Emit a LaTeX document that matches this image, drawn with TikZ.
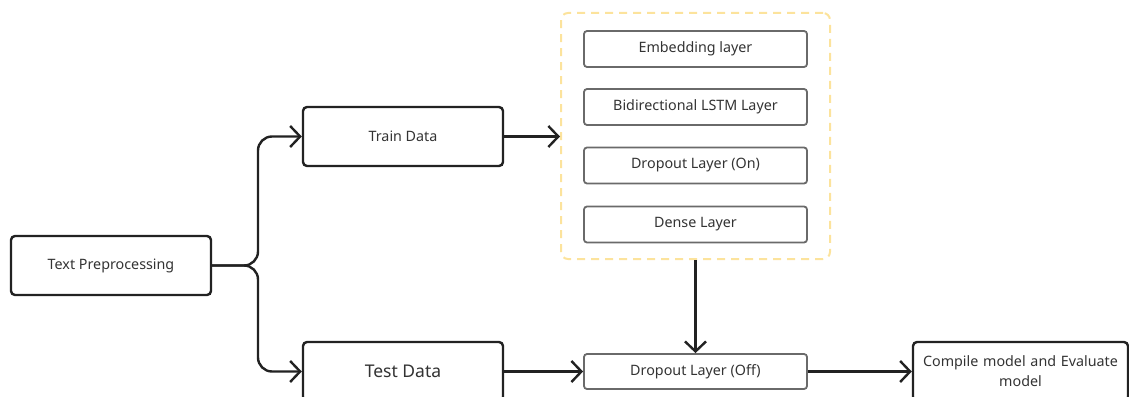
\documentclass[tikz,border=0pt]{standalone}
\usepackage{fontspec}
\setmainfont{Noto Sans}
\usetikzlibrary{arrows.meta}
\definecolor{ink}{HTML}{222222}
\definecolor{txt}{HTML}{333333}
\definecolor{layerline}{HTML}{6A6A6A}
\definecolor{groupline}{HTML}{FCE39C}
\tikzset{
  stagebox/.style={draw=ink, line width=2.4pt, rounded corners=4pt, fill=white,
    text=txt, font=\fontsize{14.3}{20}\selectfont, align=center,
    minimum width=200pt, minimum height=59pt, inner sep=0pt},
  layerbox/.style={draw=layerline, line width=1.8pt, rounded corners=3pt, fill=white,
    text=txt, font=\fontsize{14.3}{17}\selectfont,
    minimum width=223pt, minimum height=36pt, inner sep=0pt},
  groupbox/.style={draw=groupline, line width=2pt, dash pattern=on 8pt off 6pt,
    rounded corners=7pt, minimum width=269pt, minimum height=246pt, inner sep=0pt},
  flow/.style={draw=ink, line width=2.4pt,
    -{Straight Barb[length=10pt,width=21pt,line width=2.4pt]}},
}
\begin{document}
\begin{tikzpicture}[x=1pt,y=-1pt]
  \useasboundingbox (0,0) rectangle (1129,396);

  % pipeline stages
  \node[stagebox] (prep)  at (111,265.5) {Text Preprocessing};
  \node[stagebox] (train) at (403,136.5) {Train Data};
  \node[stagebox, font=\fontsize{17.5}{20}\selectfont] (test) at (403,371.5) {Test Data};

  % model layers group
  \node[groupbox] (group) at (695.5,136) {};
  \node[layerbox] (emb)  at (695.5,49)    {Embedding layer};
  \node[layerbox] (lstm) at (695.5,107)   {Bidirectional LSTM Layer};
  \node[layerbox] (don)  at (695.5,165.5) {Dropout Layer (On)};
  \node[layerbox] (dense) at (695.5,224.5) {Dense Layer};

  \node[layerbox, minimum height=35pt] (doff) at (695.5,371.5) {Dropout Layer (Off)};
  \node[stagebox, minimum width=215pt, text width=210pt] (eval) at (1020.5,371.5)
    {Compile model and Evaluate\\model};

  % connectors
  \coordinate (split) at (258,265.5);
  \draw[flow, rounded corners=14pt] (prep.east) -- (split) |- (train.west);
  \draw[flow, rounded corners=14pt] (prep.east) -- (split) |- (test.west);
  \draw[flow] (train.east) -- (group.west |- train.east);
  \draw[flow] (group.south) -- (doff.north);
  \draw[flow] (test.east) -- (doff.west);
  \draw[flow] (doff.east) -- (eval.west |- doff.east);
\end{tikzpicture}
\end{document}
